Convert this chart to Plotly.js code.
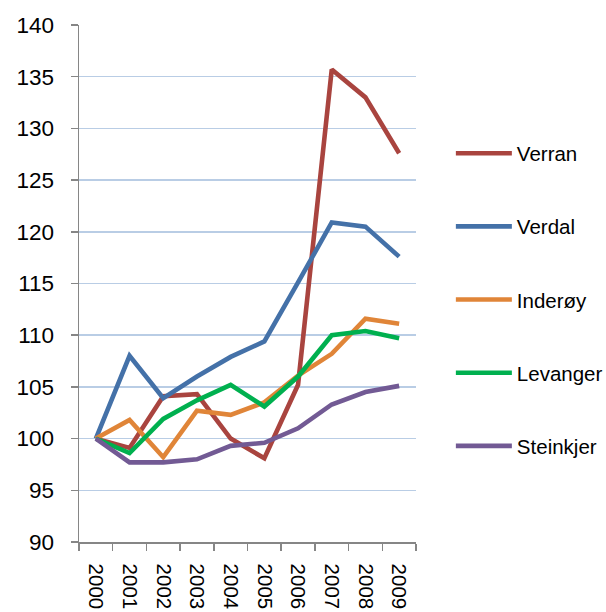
<!DOCTYPE html>
<html>
<head>
<meta charset="utf-8">
<script src="https://cdn.plot.ly/plotly-3.0.1.min.js"></script>
<style>
html,body{margin:0;padding:0;background:#fff;}
#chart{width:606px;height:612px;}
</style>
</head>
<body>
<div id="chart"></div>
<script>
const years = ["2000","2001","2002","2003","2004","2005","2006","2007","2008","2009"];
const verran    = [100, 99.1, 104.1, 104.3, 100.0, 98.1, 105.2, 135.7, 133.0, 127.6];
const verdal    = [100, 108.0, 103.9, 106.0, 107.9, 109.4, 115.1, 120.9, 120.5, 117.6];
const inderoy   = [100, 101.8, 98.2, 102.7, 102.3, 103.5, 106.1, 108.2, 111.6, 111.1];
const levanger  = [100, 98.6, 101.9, 103.7, 105.2, 103.1, 106.0, 110.0, 110.4, 109.7];
const steinkjer = [100, 97.7, 97.7, 98.0, 99.3, 99.6, 101.0, 103.3, 104.5, 105.1];
const seriesNames = ["Verran","Verdal","Inderøy","Levanger","Steinkjer"];
const seriesColors = ["#A9443F","#4471A8","#E08538","#00B04F","#725A94"];
const yTicks = [90,95,100,105,110,115,120,125,130,135,140];

const allSeries = [verran, verdal, inderoy, levanger, steinkjer];
const traces = allSeries.map((vals, i) => ({
  type: "scatter",
  mode: "lines",
  x: years,
  y: vals,
  name: seriesNames[i],
  legendgroup: "g" + i,
  line: {color: seriesColors[i], width: 4.6},
  hoverinfo: "skip"
}));

const layout = {
  width: 606,
  height: 612,
  margin: {l: 79, r: 190, t: 25, b: 70, pad: 0, autoexpand: false},
  paper_bgcolor: "#ffffff",
  plot_bgcolor: "#ffffff",
  font: {family: "Liberation Sans, Arial, sans-serif", color: "#000000", size: 20},
  showlegend: true,
  legend: {
    xref: "container", yref: "container",
    x: 0.744, xanchor: "left",
    y: 0.782, yanchor: "top",
    maxheight: 560,
    traceorder: "grouped",
    tracegroupgap: 43.5,
    itemwidth: 56,
    font: {size: 20.5, color: "#000"},
    bgcolor: "rgba(0,0,0,0)",
    borderwidth: 0
  },
  xaxis: {
    type: "category",
    range: [-0.5, 9.5],
    tickvals: years,
    ticktext: years,
    tickangle: 90,
    tickson: "boundaries",
    ticks: "outside",
    ticklen: 7,
    tickwidth: 1.5,
    tickcolor: "#868686",
    showline: true,
    linecolor: "#868686",
    linewidth: 1.5,
    showgrid: false,
    zeroline: false,
    tickfont: {size: 20.5, color: "#000"},
    ticklabelstandoff: 16,
    automargin: false,
    fixedrange: true
  },
  yaxis: {
    range: [90, 140],
    tickvals: yTicks,
    ticks: "outside",
    ticklen: 7,
    tickwidth: 1.5,
    tickcolor: "#868686",
    showline: true,
    linecolor: "#868686",
    linewidth: 1.5,
    showgrid: true,
    gridcolor: "#B9CDE5",
    gridwidth: 1.5,
    zeroline: false,
    tickfont: {size: 22.5, color: "#000"},
    ticklabelstandoff: 12,
    automargin: false,
    fixedrange: true
  }
};

Plotly.newPlot("chart", traces, layout, {staticPlot: true, displayModeBar: false});
</script>
</body>
</html>
